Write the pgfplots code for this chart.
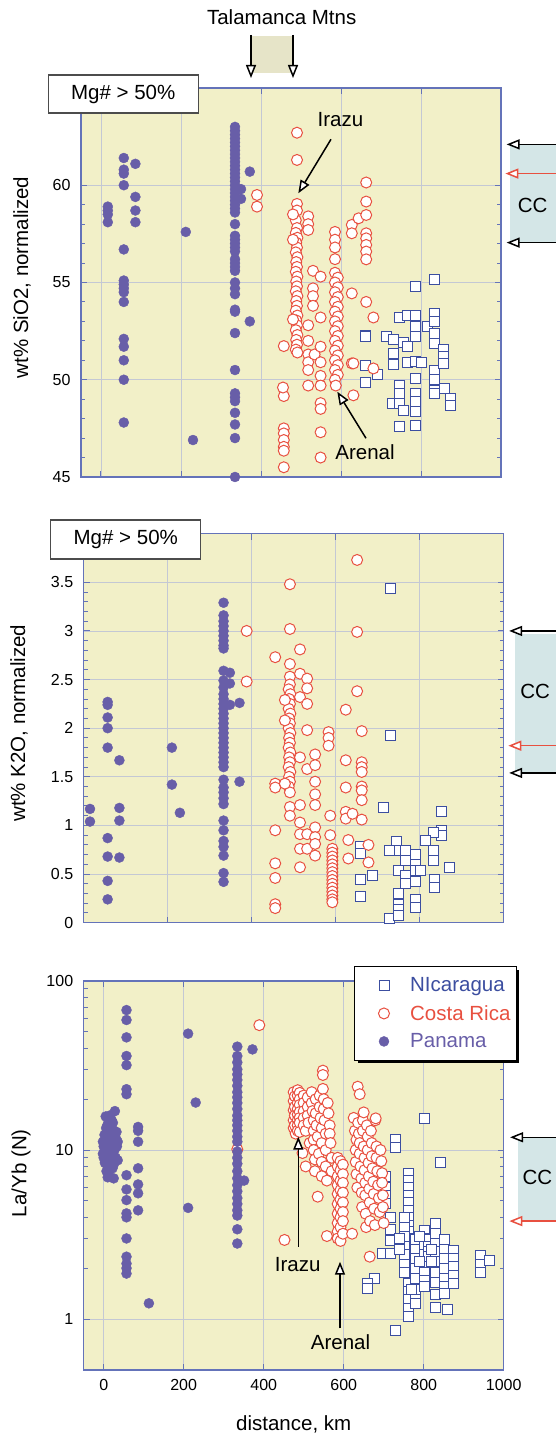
\documentclass[border=0pt]{standalone}
\usepackage{fontspec}
\setmainfont{Liberation Sans}
\usepackage{pgfplots}
\pgfplotsset{compat=1.18}
\usetikzlibrary{arrows.meta,shadows}

\definecolor{bgyellow}{RGB}{242,240,200}
\definecolor{axblue}{RGB}{100,115,185}
\definecolor{gridc}{RGB}{196,200,212}
\definecolor{panpurple}{RGB}{104,94,168}
\definecolor{crred}{RGB}{232,80,64}
\definecolor{nicblue}{RGB}{60,78,160}
\definecolor{ccbox}{RGB}{212,230,231}
\definecolor{talbox}{RGB}{230,228,200}

\newcommand{\bigfont}{\fontsize{20.5}{24}\selectfont}
\newcommand{\tickfont}{\fontsize{16}{18}\selectfont}

\pgfplotsset{
  panel/.style={
    scale only axis, width=420pt, height=389pt,
    clip=false,
    axis background/.style={fill=bgyellow},
    axis line style={axblue, line width=1.2pt},
    grid=major, major grid style={gridc, line width=0.8pt},
    tick style={axblue, line width=1pt},
    major tick length=6pt, minor tick length=4pt,
    tick align=inside,
    xticklabel pos=bottom, yticklabel pos=left,
    tick label style={font=\tickfont},
    yticklabel style={xshift=-7pt},
    xticklabel style={yshift=-6pt, /pgf/number format/1000 sep={}},
    label style={font=\bigfont},
    /pgf/number format/assume math mode=true,
    legend image code/.code={%
      \path (0pt,0pt) (48pt,0pt);
      \path[##1] plot coordinates {(24.5pt,0pt)};},
  },
  nic/.style={only marks, mark=square*, mark size=5pt,
    mark options={draw=nicblue, fill=white, line width=0.9pt}},
  cr/.style={only marks, mark=*, mark size=5.5pt,
    mark options={draw=crred, fill=white, line width=1pt}},
  pan/.style={only marks, mark=*, mark size=5pt,
    mark options={draw=panpurple, fill=panpurple, line width=0.4pt}},
}
\tikzset{
  ptr/.style={line width=1.5pt, -{Triangle[length=13pt,width=10pt,fill=white]}},
}

\begin{document}
\begin{tikzpicture}
\useasboundingbox (0,0) rectangle (555pt,1437pt);

% ---------------- SiO2 ----------------
\begin{axis}[panel, at={(81pt,960pt)}, anchor=south west,
  xmin=-50, xmax=1000, ymin=45, ymax=65,
  xtick={0,200,...,1000}, xticklabels={},
  ytick={45,50,55,60}, minor y tick num=4,
  ylabel={wt\% SiO2, normalized},
  ylabel style={at={(axis description cs:-0.1405,0.513)}, anchor=center, rotate=0}]
\addplot[nic] coordinates {
(660,52.3)(660,52.2)(660,50.75)(660,49.85)(692,50.27)(713,52.25)(730,52.08)(730,51.36)(730,50.8)(728,48.78)
(745,53.2)(745,49.73)(745,49.3)(745,48.78)(745,47.58)(757,51.9)(757,48.44)(767,53.28)(767,51.7)(767,50.87)
(787,54.82)(787,53.28)(787,52.73)(787,52.21)(787,50.93)(787,50.07)(787,49.3)(787,48.87)(787,48.35)(787,47.67)
(801,50.87)(816,52.73)(834,55.16)(834,53.41)(834,52.98)(834,52.38)(834,51.87)(834,50.5)(834,50.0)(834,49.47)
(834,49.3)(856,51.56)(856,51.18)(856,50.84)(858,49.55)(873,49.04)(873,48.7)
};
\addplot[cr] coordinates {
(390,59.5)(390,58.9)
(457,51.73)(457,49.16)(457,47.5)(457,47.24)(457,46.9)(457,46.55)(457,46.35)(457,45.5)(455,49.6)
(490,62.7)(490,61.3)(490,59.04)(490,58.7)(487,58.2)
(490,57.8)(487,57.55)(491,57.3)(488,57.05)(490,56.8)(487,56.55)(491,56.3)(488,56.05)(490,55.8)(487,55.55)
(491,55.3)(488,55.05)(490,54.8)(487,54.55)(491,54.3)(488,54.05)(490,53.8)(487,53.55)(491,53.3)(488,53.05)
(490,52.8)(487,52.55)(491,52.3)(488,52.05)(490,51.8)(487,51.55)(491,51.4)
(480,58.5)(480,57.2)(480,53.1)
(518,58.4)(518,58.0)(518,57.7)(518,52.8)(518,52.0)(518,51.3)(518,50.9)(518,50.5)(518,49.7)
(530,55.6)(530,54.7)(530,54.3)(530,53.8)(534,51.3)
(549,55.3)(549,53.2)(549,51.7)(549,50.9)(549,50.2)(549,49.7)(549,48.8)(549,48.5)(549,47.3)(549,46.0)
(585,57.6)(585,57.2)(585,56.8)(585,56.2)
(585,55.5)(592,55.25)(585,55.0)(592,54.75)(585,54.5)(592,54.25)(585,54.0)(592,53.75)(585,53.5)(592,53.25)
(585,53.0)(592,52.75)(585,52.5)(592,52.25)(585,52.0)(592,51.75)(585,51.5)(592,51.25)(585,51.0)(592,50.75)
(585,50.5)(592,50.25)(585,50.0)(587,49.7)
(627,57.96)(627,57.53)(627,54.44)(627,50.84)(631,50.84)(631,49.2)(644,58.3)
(663,60.14)(663,59.16)(663,58.47)(663,57.53)(663,57.27)(663,56.93)(663,56.59)(663,56.19)(663,54.0)
(681,53.2)(681,50.58)
};
\addplot[pan] coordinates {
(17,58.9)(17,58.7)(17,58.5)(17,58.1)
(57,61.4)(57,60.8)(57,60.6)(57,60.0)(57,56.7)(57,55.1)(57,54.9)(57,54.7)(57,54.5)(57,54.0)
(57,52.1)(57,51.7)(57,51.0)(57,50.0)(57,47.8)
(86,61.1)(86,59.4)(86,58.7)(86,58.1)
(212,57.6)(230,46.9)
(335,63.0)(335,62.8)(335,62.6)(335,62.4)(335,62.2)(335,62.0)(335,61.8)(335,61.6)(335,61.4)(335,61.2)
(335,61.0)(335,60.8)(335,60.6)(335,60.4)(335,60.2)(335,60.0)(335,59.8)(335,59.6)(335,59.4)(335,59.2)
(335,59.0)(335,58.8)(335,58.6)(335,58.0)(335,57.4)(335,57.2)(335,57.0)(335,56.8)(335,56.6)(335,56.2)
(335,56.0)(335,55.8)(335,55.6)(335,55.0)(335,54.7)(335,54.4)(335,53.6)(335,53.5)(335,52.4)(335,50.5)
(335,49.3)(335,49.1)(335,48.9)(335,48.3)(335,47.7)(335,47.0)(335,45.0)
(350,59.8)(350,59.3)(372,60.7)(372,53.0)
};
% continental crust reference
\fill[ccbox] (axis cs:1023,57.05) rectangle (axis cs:1145,62.1);
\node[font=\bigfont] at (axis cs:1079,58.97) {CC};
\draw[ptr] (axis cs:1145,62.1) -- (axis cs:1014,62.1);
\draw[ptr, crred] (axis cs:1145,60.6) -- (axis cs:1011,60.6);
\draw[ptr] (axis cs:1145,57.05) -- (axis cs:1014,57.05);
\end{axis}

% ---------------- K2O ----------------
\begin{axis}[panel, at={(83.7pt,514.3pt)}, anchor=south west,
  xmin=0, xmax=1000, ymin=0, ymax=4,
  xtick={200,400,600,800}, xticklabels={},
  ytick={0,0.5,1,1.5,2,2.5,3,3.5}, minor y tick num=4,
  ylabel={wt\% K2O, normalized},
  ylabel style={at={(axis description cs:-0.154,0.513)}, anchor=center, rotate=0}]
\addplot[nic] coordinates {
(731,3.44)(731,1.93)(713,1.19)(852,1.14)(852,0.95)(852,0.90)(832,0.93)(832,0.74)(832,0.64)(813,0.85)
(872,0.57)(834,0.44)(834,0.36)(658,0.78)(658,0.71)(658,0.44)(658,0.27)(688,0.49)(744,0.84)(744,0.74)
(728,0.74)(728,0.04)(749,0.54)(749,0.30)(749,0.19)(749,0.14)(749,0.07)(765,0.74)(765,0.64)(765,0.49)
(765,0.40)(789,0.70)(789,0.60)(789,0.54)(789,0.42)(789,0.24)(789,0.16)(801,0.54)
};
\addplot[cr] coordinates {
(388,3.0)(388,2.48)
(456,2.73)(456,1.43)(456,1.39)(456,0.95)(456,0.61)(456,0.46)(456,0.19)(456,0.15)
(491,3.48)(491,3.02)(491,2.66)(491,2.53)
(491,2.45)(488,2.40)(492,2.35)(489,2.30)(491,2.25)(488,2.20)(492,2.15)(489,2.10)(491,2.05)(488,2.00)
(492,1.95)(489,1.90)(491,1.85)(488,1.80)(492,1.75)(489,1.70)(491,1.65)(488,1.60)(492,1.55)(489,1.50)
(491,1.45)(488,1.40)(491,1.34)(491,1.19)(491,1.10)
(479,2.29)(479,2.08)(479,1.43)
(515,2.81)(515,2.56)(515,2.32)(515,1.70)(515,1.21)(515,1.03)(515,0.91)(515,0.76)(515,0.57)
(532,2.51)(532,2.41)(532,2.25)(532,1.98)(532,1.58)(532,0.91)(532,0.76)
(551,1.73)(551,1.62)(551,1.45)(551,1.32)(551,1.21)(551,0.98)(551,0.88)(551,0.81)(551,0.69)
(583,1.96)(583,1.90)(583,1.82)(587,1.10)(587,0.90)
(592,0.76)(592,0.72)(592,0.68)(592,0.64)(592,0.60)(592,0.56)(592,0.52)(592,0.48)(592,0.44)(592,0.40)
(592,0.36)(592,0.32)(592,0.28)(592,0.24)(592,0.21)
(624,2.19)(624,1.67)(624,1.39)(624,1.14)(624,1.07)(630,0.85)(630,0.66)(640,1.12)
(651,3.73)(651,2.99)(651,2.38)
(662,1.97)(662,1.65)(662,1.60)(662,1.55)(662,1.40)(662,1.36)(662,1.26)(662,1.06)
(678,0.80)(678,0.62)
};
\addplot[pan] coordinates {
(15,1.17)(15,1.04)
(57,2.27)(57,2.24)(57,2.11)(57,2.0)(57,1.8)(57,0.87)(57,0.68)(57,0.43)(57,0.24)
(85,1.67)(85,1.18)(85,1.05)(85,0.67)
(210,1.8)(210,1.42)(229,1.13)
(333,3.29)(333,3.16)(333,3.10)(333,3.05)(333,3.0)(333,2.95)(333,2.90)(333,2.85)(333,2.82)(333,2.59)
(333,2.49)(333,2.42)(333,2.35)(333,2.30)(333,2.25)(333,2.20)(333,2.15)(333,2.10)(333,2.05)(333,2.0)
(333,1.95)(333,1.90)(333,1.85)(333,1.80)(333,1.75)(333,1.70)(333,1.65)(333,1.60)(333,1.47)(333,1.39)
(333,1.34)(333,1.28)(333,1.22)(333,1.05)(333,0.95)(333,0.84)(333,0.78)(333,0.69)(333,0.51)(333,0.42)
(348,2.57)(348,2.46)(348,2.24)(371,2.26)(371,1.45)
};
\fill[ccbox] (axis cs:1027,1.54) rectangle (axis cs:1130,2.97);
\node[font=\bigfont] at (axis cs:1075,2.38) {CC};
\draw[ptr] (axis cs:1130,3.0) -- (axis cs:1013,3.0);
\draw[ptr, crred] (axis cs:1130,1.82) -- (axis cs:1011,1.82);
\draw[ptr] (axis cs:1130,1.54) -- (axis cs:1013,1.54);
\end{axis}

% ---------------- La/Yb ----------------
\begin{axis}[panel, at={(83.7pt,67pt)}, anchor=south west,
  xmin=-50, xmax=1000, ymin=0.5, ymax=100, ymode=log,
  xtick={0,200,...,1000},
  ytick={1,10,100}, yticklabels={1,10,100},
  ylabel={La/Yb (N)}, xlabel={distance, km},
  ylabel style={at={(axis description cs:-0.149,0.506)}, anchor=center, rotate=0},
  xlabel style={at={(axis description cs:0.5,-0.141)}, anchor=center},
  legend cell align=left,
  legend style={at={(1.032,1.0386)}, anchor=north east, draw=black, line width=1.4pt,
    fill=white, font=\bigfont, row sep=8pt, inner xsep=4pt, inner ysep=9pt,
    drop shadow={fill=black, opacity=1, shadow xshift=3pt, shadow yshift=-3pt}}]
\addplot[nic] coordinates {
(801,15.3)(843,8.5)(730,11.5)(730,10.3)(704,6.95)(704,6.0)(704,5.4)(704,4.8)(696,2.45)(677,1.74)
(659,1.62)(659,1.51)(730,0.86)
(763,7.3)(763,6.6)(763,6.0)(763,5.4)(763,4.9)(763,4.4)(763,4.0)(763,3.6)(763,3.3)(763,3.0)
(763,2.7)(763,2.45)(763,2.2)(763,2.0)(763,1.8)(763,1.62)(763,1.45)(763,1.3)(763,1.15)(763,1.03)
(751,4.0)(751,3.5)(751,3.1)(751,2.7)(751,2.4)(751,2.1)(751,1.9)
(717,4.0)(717,3.4)(717,2.9)(717,2.45)
(780,2.94)(780,2.6)(780,2.3)(780,2.0)(780,1.75)(780,1.5)(780,1.3)(780,1.23)
(801,3.36)(801,3.0)(801,2.7)(801,2.4)(801,2.15)(801,1.9)(801,1.7)(801,1.57)
(813,2.94)(813,2.7)(813,2.5)(813,2.34)
(830,3.7)(830,3.2)(830,2.8)(830,2.5)(830,2.2)(830,1.9)(830,1.65)(830,1.4)(830,1.18)
(851,2.94)(851,2.6)(851,2.3)(851,2.0)(851,1.75)(851,1.55)(851,1.42)
(874,2.56)(874,2.3)(874,2.05)(874,1.82)(874,1.62)(859,1.14)
(941,2.39)(941,2.1)(941,1.88)(964,2.23)
(740,3.0)(740,2.6)(790,3.1)(790,2.2)(820,2.6)(820,2.2)(770,1.5)
};
\addlegendentry{\textcolor{nicblue}{NIcaragua}}
\addplot[cr] coordinates {
(389,54.8)(334,10.1)(452,2.94)
(475,22.0)(475,19.5)(475,17.2)(475,15.0)(475,13.5)(478,20.8)(478,18.0)(478,16.0)(478,14.0)(480,12.5)
(485,22.6)(485,21.0)(485,19.0)(485,17.5)(485,16.2)(485,15.0)(485,14.0)(485,13.0)
(490,21.8)(490,20.0)(490,18.5)(490,16.8)(490,15.5)(490,14.5)(490,12.8)(497,9.6)
(500,21.0)(500,19.0)(500,17.0)(500,15.5)(500,14.0)(505,8.0)(505,13.0)
(510,20.5)(510,18.0)(510,16.0)(512,14.5)(515,11.0)
(520,22.0)(520,19.0)(522,17.0)(525,15.0)(525,13.0)(525,11.5)(525,10.0)(528,8.8)(528,7.5)
(530,20.0)(530,16.5)(532,14.0)(535,5.3)(535,12.0)(538,9.5)(540,21.0)(540,18.0)(542,15.5)
(545,13.5)(545,11.0)(545,8.5)(545,7.0)(548,29.5)(548,27.8)(548,23.0)(550,20.0)(550,17.5)
(552,15.0)(555,12.5)(555,10.0)(555,8.0)(558,6.6)(558,3.1)(560,19.0)(562,16.5)(565,14.0)
(565,12.5)(567,11.0)(570,9.0)(570,7.5)
(585,9.0)(585,8.0)(585,7.0)(585,6.2)(585,5.5)(585,4.8)(585,4.2)(585,3.7)(585,3.3)(585,3.0)
(592,8.6)(592,7.6)(592,6.6)(592,5.8)(592,5.1)(592,4.5)(592,4.0)(592,3.5)(592,2.9)
(598,8.2)(598,7.2)(598,6.4)(598,5.6)(598,4.9)(598,4.3)(598,3.8)(598,3.2)
(621,3.2)(625,15.5)(628,13.0)(632,11.5)(630,10.0)(630,8.5)(632,7.2)(634,6.0)(635,23.7)(636,14.5)
(638,12.5)(640,21.4)(640,11.0)(640,9.5)(642,8.0)(644,6.8)(645,5.6)(646,4.6)(648,15.0)(648,13.0)
(650,16.7)(650,10.5)(652,9.0)(652,7.6)(654,6.4)(654,5.4)(655,4.2)(656,3.5)(658,14.0)(660,12.0)
(660,10.0)(662,8.4)(663,7.0)(664,5.9)(665,4.9)(665,2.34)(666,3.8)(668,13.0)(670,11.0)(670,9.2)
(672,7.8)(674,6.5)(675,5.5)(676,4.5)(678,3.6)(679,15.0)(680,15.4)(682,10.5)(682,9.0)(684,7.5)
(686,6.2)(688,5.2)(690,4.3)(692,10.0)(694,8.6)(696,7.3)(696,6.4)(698,5.4)(698,4.6)(700,3.7)
};
\addlegendentry{\textcolor{crred}{Costa Rica}}
\addplot[pan] coordinates {
(-2,11.2)(-2,9.5)(0,10.5)(0,9.0)(2,12.3)(3,8.4)(5,10.0)(5,15.8)(6,13.5)(7,7.5)(8,11.8)(8,9.2)
(10,14.2)(10,8.0)(12,10.8)(12,12.8)(13,7.0)(15,9.8)(15,16.0)(16,11.5)(17,13.2)(18,8.6)(19,10.4)
(20,12.0)(20,15.0)(21,9.4)(22,7.8)(23,14.5)(24,11.0)(25,8.2)(26,13.0)(27,10.0)(28,17.0)(30,9.0)
(30,11.8)(32,12.8)(33,10.5)(35,8.7)(35,11.2)(25,6.8)(10,6.9)
(57,67.3)(57,58.8)(57,46.4)(57,36.0)(57,31.8)(57,22.9)(57,21.4)(57,7.1)(57,5.85)(57,5.06)
(57,4.22)(57,4.0)(57,3.0)(57,2.34)(57,2.13)(57,2.0)(57,1.86)
(86,13.7)(86,13.0)(86,11.2)(86,7.8)(86,6.26)(86,5.55)(86,4.4)
(113,1.24)(211,48.8)(211,4.55)(230,19.1)
(334,40.9)(334,36.0)(334,33.0)(334,30.0)(334,28.0)(334,26.0)(334,24.0)(334,22.0)(334,20.5)(334,19.0)
(334,17.5)(334,16.0)(334,15.0)(334,14.0)(334,13.0)(334,12.0)(334,11.2)(334,9.8)(334,9.0)
(334,8.3)(334,7.5)(334,6.8)(334,6.2)(334,5.7)(334,5.2)(334,4.8)(334,4.4)(334,4.1)(334,3.4)(334,2.8)
(372,39.4)(351,6.6)
};
\addlegendentry{\textcolor{panpurple}{Panama}}
\fill[ccbox] (axis cs:1035,3.85) rectangle (axis cs:1135,11.9);
\node[font=\bigfont] at (axis cs:1084,6.9) {CC};
\draw[ptr] (axis cs:1135,11.9) -- (axis cs:1016,11.9);
\draw[ptr, crred] (axis cs:1135,3.8) -- (axis cs:1014,3.8);
\end{axis}

% ---------------- labels and pointers (page pixels, y downwards) ----------------
\begin{scope}[shift={(0pt,1437pt)}, x=1pt, y=-1pt]
  \node[font=\bigfont] at (281.7,16.7) {Talamanca Mtns};
  \fill[talbox] (251,36) rectangle (293,73);
  \draw[ptr] (251,35) -- (251,78);
  \draw[ptr] (293,35) -- (293,78);

  \node[draw=black!70, fill=white, line width=1.2pt, minimum width=150pt, minimum height=38pt,
        inner sep=0pt, font=\bigfont] at (123.2,94) {Mg\# > 50\%};
  \node[draw=black!70, fill=white, line width=1.2pt, minimum width=150pt, minimum height=39pt,
        inner sep=0pt, font=\bigfont] at (125.8,539.5) {Mg\# > 50\%};

  \node[font=\bigfont] at (340.5,120) {Irazu};
  \draw[ptr] (331,139.3) -- (298.3,193.3);
  \node[font=\bigfont] at (365,452.5) {Arenal};
  \draw[ptr] (366,438.3) -- (337.3,391.7);

  \node[font=\bigfont] at (297.7,1265) {Irazu};
  \draw[ptr] (298.3,1247) -- (298.3,1136.7);
  \node[font=\bigfont] at (340.5,1341.7) {Arenal};
  \draw[ptr] (340,1328.3) -- (340,1261.7);
\end{scope}
\end{tikzpicture}
\end{document}
